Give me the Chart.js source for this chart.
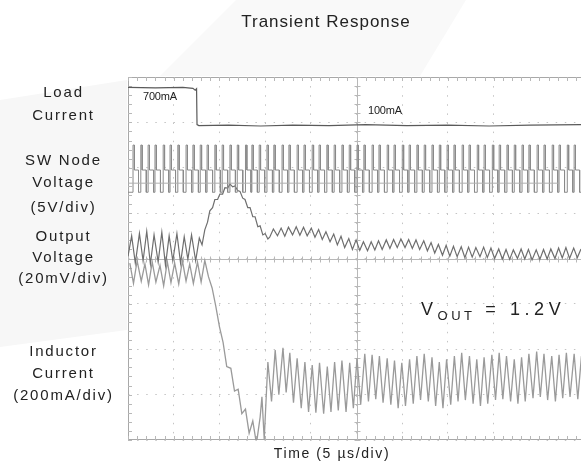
<!DOCTYPE html>
<html>
<head>
<meta charset="utf-8">
<script src="https://cdn.jsdelivr.net/npm/chart.js@4.4.0/dist/chart.umd.min.js"></script>
<style>
  html, body { margin:0; padding:0; background:#fff; }
  #wrap { position:relative; width:581px; height:466px; overflow:hidden; font-family:"Liberation Sans", Arial, sans-serif; color:#222; }
  #c { position:absolute; left:0; top:0; }
  .t { position:absolute; white-space:nowrap; line-height:1; }
  .lbl { position:absolute; left:0; width:127px; text-align:center; font-size:15px; letter-spacing:1.8px; line-height:1; }
</style>
</head>
<body>
<div id="wrap">
  <canvas id="c" width="581" height="466"></canvas>
  <div class="t" id="title" style="left:0;width:652px;text-align:center;top:13px;font-size:17px;letter-spacing:1px;">Transient Response</div>
  <div class="lbl" style="top:84px">Load</div>
  <div class="lbl" style="top:107px">Current</div>
  <div class="lbl" style="top:152px">SW Node</div>
  <div class="lbl" style="top:174px">Voltage</div>
  <div class="lbl" style="top:199px">(5V/div)</div>
  <div class="lbl" style="top:228px">Output</div>
  <div class="lbl" style="top:249px">Voltage</div>
  <div class="lbl" style="top:270px">(20mV/div)</div>
  <div class="lbl" style="top:343px">Inductor</div>
  <div class="lbl" style="top:365px">Current</div>
  <div class="lbl" style="top:387px">(200mA/div)</div>
  <div class="t" style="left:143px;top:91px;font-size:11px;letter-spacing:-0.2px;">700mA</div>
  <div class="t" style="left:368px;top:105px;font-size:11px;letter-spacing:-0.2px;">100mA</div>
  <div class="t" style="left:421px;top:300px;font-size:18px;letter-spacing:4.6px;">V<span style="font-size:13px;position:relative;top:5px;letter-spacing:3.5px;">OUT</span> = 1.2V</div>
  <div class="t" style="left:0;width:664px;text-align:center;top:446px;font-size:14px;letter-spacing:1.6px;">Time (5 µs/div)</div>
</div>
<script>
// ---- DATA (time in divisions of 5 µs, amplitude in screen divisions) ----
const xTickLabels = ['0','1','2','3','4','5','6','7','8','9'];

const loadT = [0, 0.6, 1.2, 1.42, 1.47, 1.50, 1.51, 1.55, 2.2, 2.9, 3.6, 4.4, 5.2, 6.1, 7.0, 7.9, 8.8, 9.91];
const loadV = [7.77, 7.76, 7.77, 7.75, 7.71, 7.74, 6.95, 6.93, 6.94, 6.92, 6.94, 6.93, 6.95, 6.93, 6.94, 6.92, 6.94, 6.95];

const swEdges = [0.11,0.28,0.44,0.59,0.77,0.92,1.09,1.27,1.42,1.58,1.73,1.90,2.06,2.23,2.39,2.57,2.71,2.87,3.04,3.19,
  3.37,3.52,3.70,3.85,4.03,4.18,4.35,4.51,4.68,4.84,5.01,5.16,5.34,5.49,5.67,5.82,6.00,6.15,6.32,6.48,
  6.65,6.81,6.98,7.13,7.31,7.46,7.64,7.79,7.97,8.12,8.29,8.45,8.62,8.77,8.95,9.10,9.28,9.43,9.61,9.76];
const swLow = 5.46, swHigh = 6.50, swMid = 5.95;
const swSpike = 0.03, swPlateau = 0.09;
const swGhostLevel = 5.66, swGhostEnd = 9.44;

const voutT = [0.00,0.08,0.16,0.25,0.33,0.41,0.49,0.57,0.66,0.74,0.82,0.90,0.98,1.07,1.15,1.23,1.31,1.39,1.48,1.56,
  1.62,1.68,1.74,1.79,1.85,1.90,1.96,2.01,2.07,2.12,2.18,2.23,2.29,2.34,2.40,2.45,2.51,2.56,2.62,2.67,2.73,2.78,2.84,2.89,2.95,3.00,3.06,
  3.10,3.18,3.27,3.35,3.43,3.51,3.60,3.68,3.76,3.84,3.92,4.01,4.09,4.17,4.25,4.33,4.42,4.50,4.58,4.66,4.74,4.83,4.91,4.99,
  5.07,5.15,5.24,5.32,5.40,5.48,5.56,5.65,5.73,5.81,5.89,5.97,6.06,6.14,6.22,6.30,6.38,6.47,6.55,6.63,6.71,6.79,6.88,6.96,
  7.04,7.12,7.20,7.29,7.37,7.45,7.53,7.61,7.70,7.78,7.86,7.94,8.02,8.11,8.19,8.27,8.35,8.43,8.52,8.60,8.68,8.76,8.84,8.93,
  9.01,9.09,9.17,9.25,9.34,9.42,9.50,9.58,9.66,9.75,9.83,9.91];
const voutV = [4.05,4.50,3.90,4.55,3.95,4.60,3.88,4.52,3.92,4.58,3.85,4.50,3.95,4.55,3.90,4.48,3.98,4.52,3.95,4.45,
  4.30,4.63,4.80,5.05,5.12,5.30,5.30,5.42,5.42,5.56,5.55,5.64,5.58,5.60,5.50,5.48,5.33,5.30,5.12,5.12,4.92,4.92,4.70,4.72,4.52,4.55,4.43,
  4.47,4.65,4.50,4.67,4.49,4.69,4.52,4.70,4.51,4.69,4.50,4.67,4.47,4.64,4.42,4.59,4.37,4.54,4.30,4.49,4.24,4.44,4.20,4.41,
  4.18,4.37,4.17,4.37,4.19,4.39,4.20,4.41,4.22,4.42,4.24,4.43,4.24,4.42,4.22,4.41,4.20,4.39,4.17,4.35,4.12,4.31,4.07,4.29,
  4.05,4.27,4.04,4.26,4.02,4.25,4.03,4.24,4.04,4.25,4.02,4.23,4.00,4.21,3.99,4.20,3.98,4.19,4.00,4.21,3.99,4.20,3.97,4.19,
  3.98,4.20,3.99,4.21,4.00,4.23,4.01,4.24,4.00,4.23,4.02,4.21];

const ilT = [0.04,0.12,0.20,0.29,0.37,0.45,0.53,0.61,0.70,0.78,0.86,0.94,1.02,1.11,1.19,1.27,1.35,1.43,1.52,1.60,1.68,
  1.76,1.84,1.92,2.00,2.08,2.16,2.25,2.33,2.41,2.49,2.57,2.65,2.73,2.81,2.89,2.93,2.98,3.06,3.14,3.22,3.30,3.39,3.46,3.54,
  3.62,3.70,3.79,3.87,3.95,4.03,4.11,4.19,4.28,4.36,4.44,4.52,4.60,4.68,4.77,4.85,4.93,5.01,5.09,5.18,5.26,5.34,5.42,5.50,
  5.58,5.67,5.75,5.83,5.91,5.99,6.07,6.16,6.24,6.32,6.40,6.48,6.57,6.65,6.73,6.81,6.89,6.97,7.06,7.14,7.22,7.30,7.38,7.47,
  7.55,7.63,7.71,7.79,7.87,7.96,8.04,8.12,8.20,8.28,8.37,8.45,8.53,8.61,8.69,8.77,8.86,8.94,9.02,9.10,9.18,9.27,9.35,9.43,
  9.51,9.59,9.67,9.76,9.84,9.92];
const ilV = [3.90,3.45,3.95,3.50,3.88,3.42,3.92,3.48,3.85,3.40,3.93,3.47,3.90,3.44,3.95,3.50,3.88,3.45,3.92,3.48,3.96,
  3.60,3.35,2.95,2.50,2.15,1.62,1.58,1.08,1.12,0.58,0.68,0.15,0.42,-0.08,0.50,0.95,0.02,1.72,0.85,1.98,1.00,2.03,1.05,1.92,
  0.82,1.80,0.70,1.72,0.62,1.65,0.60,1.70,0.58,1.62,0.62,1.72,0.65,1.75,0.62,1.70,0.70,1.80,0.78,1.90,0.85,1.88,0.90,1.85,
  0.82,1.80,0.78,1.75,0.70,1.70,0.75,1.78,0.80,1.85,0.88,1.90,0.85,1.82,0.75,1.72,0.70,1.78,0.78,1.85,0.85,1.92,0.88,1.85,
  0.80,1.78,0.75,1.82,0.80,1.88,0.88,1.92,0.90,1.85,0.85,1.78,0.80,1.82,0.85,1.90,0.92,1.95,0.95,1.90,0.88,1.85,0.85,1.88,
  0.92,1.92,0.95,1.90,0.90,1.85];

// ---- build point lists ----
const zip = (t, v) => t.map((x, i) => ({ x, y: v[i] }));
const swPts = [{ x: 0, y: swLow }];
swEdges.forEach(t => {
  swPts.push({ x: t, y: swLow }, { x: t, y: swHigh }, { x: t + swSpike, y: swHigh },
             { x: t + swSpike, y: swMid }, { x: t + swSpike + swPlateau, y: swMid }, { x: t + swSpike + swPlateau, y: swLow });
});
swPts.push({ x: 9.91, y: swLow });

const scopeDecor = {
  id: 'scopeDecor',
  beforeDraw(chart) {
    const ctx = chart.ctx;
    ctx.save();
    ctx.fillStyle = '#f9f9f9';
    ctx.beginPath();
    ctx.moveTo(236, 0); ctx.lineTo(466, 0); ctx.lineTo(420, 76); ctx.lineTo(160, 76); ctx.closePath();
    ctx.fill();
    ctx.fillStyle = '#f7f7f7';
    ctx.beginPath();
    ctx.moveTo(0, 100); ctx.lineTo(127, 80); ctx.lineTo(127, 330); ctx.lineTo(0, 347); ctx.closePath();
    ctx.fill();
    ctx.restore();
  },
  beforeDatasetsDraw(chart) {
    const { ctx, chartArea: a, scales: { x, y } } = chart;
    ctx.save();
    ctx.strokeStyle = '#a8a8a8';
    ctx.lineWidth = 1;
    ctx.beginPath();
    ctx.moveTo(a.right + 2, a.top + 0.5); ctx.lineTo(a.left + 0.5, a.top + 0.5);
    ctx.lineTo(a.left + 0.5, a.bottom - 0.5); ctx.lineTo(a.right + 2, a.bottom - 0.5);
    ctx.stroke();
    const cx = Math.round(x.getPixelForValue(5)) + 0.5;
    const cy = Math.round(y.getPixelForValue(4)) + 0.5;
    ctx.strokeStyle = '#b8b8b8';
    ctx.beginPath();
    ctx.moveTo(cx, a.top); ctx.lineTo(cx, a.bottom);
    ctx.moveTo(a.left, cy); ctx.lineTo(a.right, cy);
    ctx.stroke();
    ctx.beginPath();
    for (let k = 0; k <= 50; k++) {
      const px = Math.round(x.getPixelForValue(k * 0.2)) + 0.5;
      if (px > a.right) break;
      ctx.moveTo(px, a.top); ctx.lineTo(px, a.top + 4);
      ctx.moveTo(px, a.bottom); ctx.lineTo(px, a.bottom - 4);
      ctx.moveTo(px, cy - 3); ctx.lineTo(px, cy + 3);
    }
    for (let k = 0; k <= 40; k++) {
      const py = Math.round(y.getPixelForValue(k * 0.2)) + 0.5;
      ctx.moveTo(a.left, py); ctx.lineTo(a.left + 4, py);
      ctx.moveTo(cx - 3, py); ctx.lineTo(cx + 3, py);
    }
    ctx.stroke();
    ctx.restore();
  }
};

new Chart(document.getElementById('c'), {
  type: 'scatter',
  data: {
    datasets: [
      { label: 'SW ghost', data: [{ x: 0, y: swGhostLevel }, { x: swGhostEnd, y: swGhostLevel }], showLine: true, borderColor: '#b0b0b0', borderWidth: 1, pointRadius: 0 },
      { label: 'SW Node Voltage', data: swPts, showLine: true, borderColor: '#8a8a8a', borderWidth: 1, pointRadius: 0 },
      { label: 'Inductor Current', data: zip(ilT, ilV), showLine: true, borderColor: '#9a9a9a', borderWidth: 1.3, pointRadius: 0 },
      { label: 'Output Voltage', data: zip(voutT, voutV), showLine: true, borderColor: '#6e6e6e', borderWidth: 1.2, pointRadius: 0 },
      { label: 'Load Current', data: zip(loadT, loadV), showLine: true, borderColor: '#5a5a5a', borderWidth: 1.2, pointRadius: 0 }
    ]
  },
  options: {
    responsive: false,
    animation: false,
    layout: { padding: { left: 128, top: 77, right: 0, bottom: 26 } },
    plugins: { legend: { display: false }, tooltip: { enabled: false } },
    scales: {
      x: {
        type: 'linear', min: 0, max: 9.91,
        ticks: { display: false, stepSize: 1, callback: (v) => xTickLabels[v] },
        grid: { color: '#c4c4c4', lineWidth: 1, drawTicks: false },
        border: { display: false, dash: [1.5, 7.6] },
        afterFit: (s) => { s.height = 0; }
      },
      y: {
        type: 'linear', min: 0, max: 8,
        ticks: { display: false, stepSize: 1 },
        grid: { color: '#c4c4c4', lineWidth: 1, drawTicks: false },
        border: { display: false, dash: [1.5, 7.6] },
        afterFit: (s) => { s.width = 0; }
      }
    }
  },
  plugins: [scopeDecor]
});
</script>
</body>
</html>
